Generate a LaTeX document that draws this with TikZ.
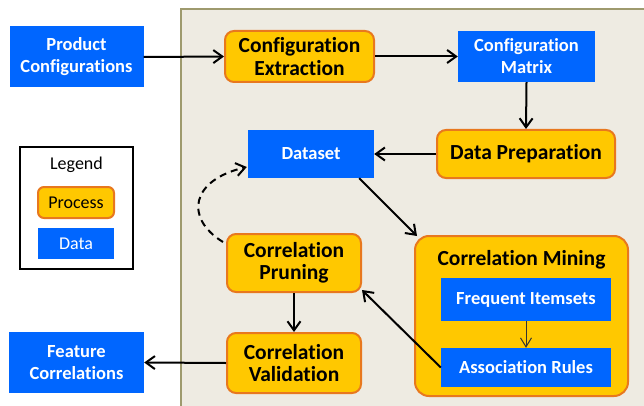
\documentclass[tikz,border=0pt]{standalone}
\usepackage{fontspec}
\setmainfont{Carlito}[Ligatures=NoCommon]
\usepackage{tikz}
\usetikzlibrary{arrows.meta,calc,positioning}
\definecolor{myblue}{HTML}{0066FF}
\definecolor{myyellow}{HTML}{FFC800}
\definecolor{myorange}{HTML}{E8781E}
\definecolor{mybg}{HTML}{EEEBE2}
\definecolor{mybgline}{HTML}{9E9A6E}
\tikzset{
    myproc/.style={rounded corners=9pt,fill=myyellow,draw=myorange,line width=2pt,align=center,
        font=\fontsize{21.5}{22.5}\selectfont\bfseries,inner sep=0pt},
    mydata/.style={fill=myblue,text=white,align=center,
        font=\fontsize{18.5}{22}\selectfont\bfseries,inner sep=0pt},
    myedge/.style={line width=2pt,draw=black,-{Straight Barb[length=9pt,width=13pt,line width=2pt]}},
    mythin/.style={line width=1pt,draw=black!80,-{Straight Barb[length=9pt,width=11pt,line width=1pt]}}
}

\begin{document}
\begin{tikzpicture}[x=1pt,y=-1pt]
  \useasboundingbox (0,0) rectangle (644,406);

  %---------------- background ----------------
            \draw[fill=mybg,draw=mybgline,line width=2pt] (181,9) rectangle (660,420);

  %---------------- legend ----------------
            \draw[black,line width=1.5pt,fill=white] (20,147) rectangle (133,269);
            \node[font=\fontsize{18}{22}\selectfont] (legtitle) at (76.5,165) {Legend};
            \node[myproc,font=\fontsize{18}{22}\selectfont,minimum width=76pt,minimum height=31pt,rounded corners=6pt] (legproc) at (76,202.5) {Process};
            \node[mydata,font=\fontsize{18}{22}\selectfont,minimum width=76pt,minimum height=31pt] (legdata) at (76,243.5) {Data};

  %---------------- data nodes ----------------
            \node[mydata,minimum width=134pt,minimum height=61pt] (prodconf) at (76.5,57) {Product\\Configurations};
            \node[mydata,minimum width=137pt,minimum height=51pt] (confmat) at (526.5,56.5) {Configuration\\Matrix};
            \node[mydata,minimum width=126pt,minimum height=48pt] (dataset) at (311,154) {Dataset};
            \node[mydata,minimum width=135pt,minimum height=61pt] (featcorr) at (76.5,362.5) {Feature\\Correlations};

  %---------------- process nodes ----------------
            \node[myproc,minimum width=149pt,minimum height=51pt] (confext) at (299.5,56.5) {Configuration\\Extraction};
            \node[myproc,minimum width=178pt,minimum height=48pt] (dataprep) at (526,154) {Data Preparation};
            \node[myproc,minimum width=134pt,minimum height=58pt] (corrprun) at (294,263) {Correlation\\Pruning};
            \node[myproc,minimum width=134pt,minimum height=60pt] (corrval) at (294,363) {Correlation\\Validation};

  % mining box with inner data nodes
            \node[myproc,minimum width=213pt,minimum height=160pt,rounded corners=14pt] (corrmin) at (521.5,316) {};
            \node[font=\fontsize{21.5}{23}\selectfont\bfseries] (mintitle) at (521.5,260) {Correlation Mining};
            \node[mydata,minimum width=170pt,minimum height=43pt] (freqitem) at (526,299.5) {Frequent Itemsets};
            \node[mydata,minimum width=170pt,minimum height=39pt] (assoc) at (526,367.5) {Association Rules};

  %---------------- connectors ----------------
            \draw[myedge] (prodconf.east) -- (confext.west);
            \draw[myedge] (confext.east) -- (confmat.west);
            \draw[myedge] (confmat.south) -- (dataprep.north);
            \draw[myedge] (dataprep.west) -- (dataset.east);
            \draw[myedge] ($(dataset.south east)+(-15,0)$) -- ($(corrmin.north west)+(3,1)$);
            \draw[myedge] (assoc.west) -- ($(corrprun.south east)+(0,-3)$);
            \draw[myedge] (corrprun.south) -- (corrval.north);
            \draw[myedge] (corrval.west) -- (featcorr.east);
            \draw[mythin] (freqitem.south) -- (assoc.north);

  % feedback loop
            \draw[myedge,dashed,dash pattern=on 7pt off 5pt] ($(corrprun.north west)+(-3,9)$)
                .. controls (184,218) and (191,180) .. ($(dataset.west)+(-1,13)$);

\end{tikzpicture}
\end{document}
